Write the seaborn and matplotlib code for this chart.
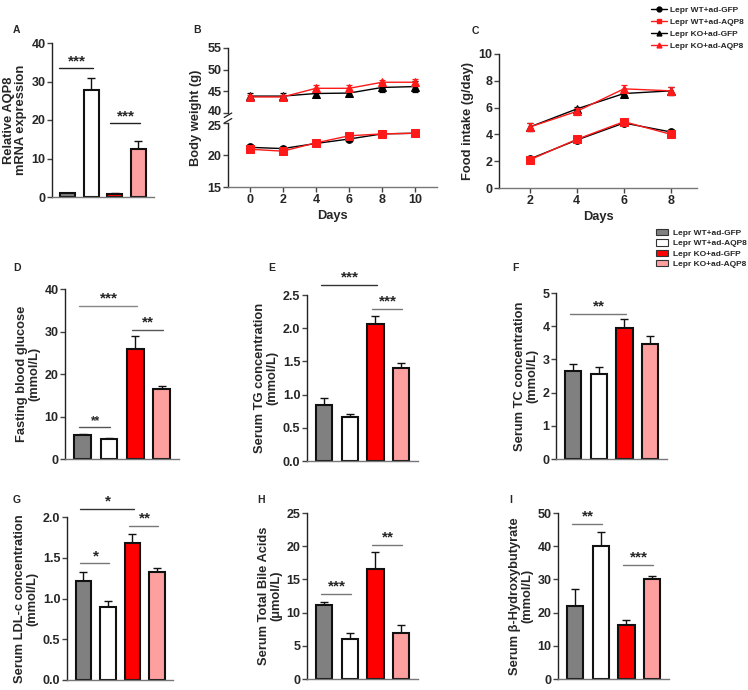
import numpy as np
import pandas as pd
import matplotlib
matplotlib.use('Agg')
import matplotlib.pyplot as plt
import matplotlib.transforms as mtransforms
import seaborn as sns
from matplotlib.lines import Line2D
from matplotlib.patches import Patch

sns.set_style('ticks')
plt.rcParams['font.family'] = ['Liberation Sans', 'DejaVu Sans']
plt.rcParams['font.weight'] = 'bold'
plt.rcParams['axes.labelweight'] = 'bold'

# ---------------- data ----------------
groups = ['Lepr WT+ad-GFP', 'Lepr WT+ad-AQP8', 'Lepr KO+ad-GFP', 'Lepr KO+ad-AQP8']
bar_colors = ['#808080', '#ffffff', '#ff0000', '#ffa0a0']

aqp8_mean = [1.0, 27.8, 0.85, 12.4]
aqp8_err = [0.15, 3.1, 0.1, 2.1]

bw_days = [0, 2, 4, 6, 8, 10]
bw_wt_gfp = [21.2, 21.0, 21.8, 22.5, 23.3, 23.4]
bw_wt_gfp_err = [0.2, 0.3, 0.2, 0.2, 0.2, 0.2]
bw_wt_aqp8 = [20.9, 20.6, 21.9, 23.0, 23.3, 23.4]
bw_wt_aqp8_err = [0.2, 0.2, 0.2, 0.2, 0.2, 0.2]
bw_ko_gfp = [43.9, 43.9, 44.5, 44.6, 45.9, 46.1]
bw_ko_gfp_err = [0.8, 0.8, 0.7, 0.7, 1.1, 1.3]
bw_ko_aqp8 = [43.7, 43.7, 45.7, 45.7, 47.1, 47.1]
bw_ko_aqp8_err = [0.5, 0.5, 0.7, 0.7, 0.6, 0.8]

fi_days = [2, 4, 6, 8]
fi_wt_gfp = [2.16, 3.58, 4.85, 4.18]
fi_wt_gfp_err = [0.05, 0.08, 0.1, 0.08]
fi_wt_aqp8 = [2.1, 3.63, 4.95, 4.0]
fi_wt_aqp8_err = [0.08, 0.08, 0.12, 0.12]
fi_ko_gfp = [4.55, 5.9, 7.05, 7.25]
fi_ko_gfp_err = [0.3, 0.15, 0.1, 0.3]
fi_ko_aqp8 = [4.55, 5.72, 7.4, 7.25]
fi_ko_aqp8_err = [0.3, 0.25, 0.25, 0.3]

glu_mean = [5.6, 4.6, 25.8, 16.5]
glu_err = [0.3, 0.3, 3.1, 0.7]
tg_mean = [0.85, 0.66, 2.06, 1.40]
tg_err = [0.10, 0.05, 0.12, 0.07]
tc_mean = [2.65, 2.56, 3.94, 3.45]
tc_err = [0.22, 0.22, 0.29, 0.24]
ldl_mean = [1.22, 0.90, 1.68, 1.325]
ldl_err = [0.11, 0.07, 0.11, 0.055]
tba_mean = [11.15, 5.97, 16.6, 6.98]
tba_err = [0.45, 0.96, 2.6, 1.2]
bhb_mean = [21.9, 40.2, 16.2, 30.1]
bhb_err = [5.35, 4.1, 1.7, 0.9]

W, H = 748, 690
fig = plt.figure(figsize=(W / 100, H / 100), dpi=100)

TICK_FS = 9
LAB_FS = 9.3
STAR_FS = 11


def rect(x0, y0, x1, y1):
    return [x0 / W, 1 - y1 / H, (x1 - x0) / W, (y1 - y0) / H]


def style_axes(ax, bottom_color='#777777'):
    sns.despine(ax=ax)
    ax.spines['left'].set_color('#222222')
    ax.spines['left'].set_linewidth(1.0)
    ax.spines['bottom'].set_color(bottom_color)
    ax.spines['bottom'].set_linewidth(1.0)
    ax.tick_params(axis='both', labelsize=TICK_FS, width=1, length=3.5, pad=1.2, color='#444444')
    for t in ax.get_yticklabels() + ax.get_xticklabels():
        t.set_fontweight('bold')


def panel_label(x, y, s):
    fig.text(x / W, 1 - y / H, s, fontsize=7.5, fontweight='bold', ha='left', va='center')


def bar_panel(r, means, errs, ylim, yticks, ylabel, sigs, fmt=None):
    ax = fig.add_axes(r)
    df = pd.DataFrame({'group': groups, 'value': means})
    sns.barplot(data=df, x='group', y='value', hue='group', order=groups, hue_order=groups,
                palette=bar_colors, saturation=1, edgecolor='#111111', linewidth=1.5,
                width=0.63, legend=False, errorbar=None, ax=ax, zorder=2)
    ax.errorbar(np.arange(4), means, yerr=[np.zeros(4), errs], fmt='none', ecolor='#111111',
                elinewidth=1, capsize=2.8, capthick=1, zorder=1)
    ax.set_xlim(-0.67, 3.66)
    ax.set_ylim(*ylim)
    ax.set_yticks(yticks)
    if fmt:
        ax.set_yticklabels([fmt.format(v) for v in yticks])
    ax.set_xticks([])
    ax.set_xlabel('')
    ax.set_ylabel(ylabel, fontsize=LAB_FS, fontweight='bold', labelpad=3, linespacing=1.05)
    style_axes(ax)
    for (i, j, y, s, fs, col) in sigs:
        ax.plot([i - 0.12, j + 0.05], [y, y], color=col, lw=1, clip_on=False)
        ax.annotate(s, xy=((i + j) / 2, y), xytext=(0, 0.3), textcoords='offset points',
                    ha='center', va='bottom', fontsize=fs, fontweight='bold', annotation_clip=False)
    return ax


# ---------------- A ----------------
panel_label(13, 30, 'A')
bar_panel(rect(52, 43, 154, 197), aqp8_mean, aqp8_err, (0, 40), [0, 10, 20, 30, 40],
          'Relative AQP8\nmRNA expression',
          [(0 - 0.25, 1, 33.4, '***', STAR_FS, '#222222'), (2 - 0.1, 3, 19.1, '***', STAR_FS, '#222222')])

# ---------------- B (broken axis) ----------------
panel_label(193, 30, 'B')
axBt = fig.add_axes(rect(228, 48, 437, 113))
axBb = fig.add_axes(rect(228, 123, 437, 187))


def line_series(ax, x, y, e, color, marker, ms):
    sns.lineplot(x=x, y=y, ax=ax, color=color, marker=marker, markersize=ms, linewidth=1,
                 markeredgecolor=color, legend=False)
    ax.errorbar(x, y, yerr=e, fmt='none', ecolor=color, elinewidth=0.9, capsize=2.5, capthick=0.9)


line_series(axBt, bw_days, bw_ko_gfp, bw_ko_gfp_err, 'black', '^', 5.5)
line_series(axBt, bw_days, bw_ko_aqp8, bw_ko_aqp8_err, '#ff1a1a', '^', 6)
line_series(axBb, bw_days, bw_wt_gfp, bw_wt_gfp_err, 'black', 'o', 5.5)
line_series(axBb, bw_days, bw_wt_aqp8, bw_wt_aqp8_err, '#ff1a1a', 's', 5.5)

for ax in (axBt, axBb):
    ax.set_xlim(-1.3, 11.3)
axBt.set_ylim(40, 55)
axBt.set_yticks([40, 45, 50, 55])
axBb.set_ylim(15, 25)
axBb.set_yticks([15, 20, 25])
axBb.set_xticks(bw_days)
style_axes(axBt)
style_axes(axBb)
axBt.spines['bottom'].set_visible(False)
axBt.set_xticks([])
axBt.set_xlabel('')
axBb.set_xlabel('Days', fontsize=LAB_FS, fontweight='bold', labelpad=3)
axBb.set_ylabel('')
axBt.set_ylabel('')
# nudge the two labels at the break apart
fig.canvas.draw()
lab40 = axBt.get_yticklabels()[0]
lab40.set_transform(lab40.get_transform() + mtransforms.ScaledTranslation(0, 1.8 / 72, fig.dpi_scale_trans))
lab25 = axBb.get_yticklabels()[-1]
lab25.set_transform(lab25.get_transform() + mtransforms.ScaledTranslation(0, -1.8 / 72, fig.dpi_scale_trans))
# break marks
d = dict(color='#222222', lw=0.9, clip_on=False)
axBt.plot([-0.018, 0.018], [-0.07, 0.0], transform=axBt.transAxes, **d)
axBb.plot([-0.018, 0.018], [1.0, 1.07], transform=axBb.transAxes, **d)
fig.text(196 / W, 1 - 118 / H, 'Body weight (g)', rotation=90, fontsize=LAB_FS, fontweight='bold',
         ha='center', va='center')

# ---------------- C ----------------
panel_label(472, 31, 'C')
axC = fig.add_axes(rect(499, 54, 697, 188))
line_series(axC, fi_days, fi_wt_gfp, fi_wt_gfp_err, 'black', 'o', 5.5)
line_series(axC, fi_days, fi_wt_aqp8, fi_wt_aqp8_err, '#ff1a1a', 's', 5.5)
line_series(axC, fi_days, fi_ko_gfp, fi_ko_gfp_err, 'black', '^', 5.5)
line_series(axC, fi_days, fi_ko_aqp8, fi_ko_aqp8_err, '#ff1a1a', '^', 6)
axC.set_xlim(0.7, 9.1)
axC.set_ylim(0, 10)
axC.set_yticks([0, 2, 4, 6, 8, 10])
axC.set_xticks(fi_days)
style_axes(axC)
axC.set_xlabel('Days', fontsize=LAB_FS, fontweight='bold', labelpad=3)
axC.set_ylabel('Food intake (g/day)', fontsize=LAB_FS, fontweight='bold', labelpad=3)

line_handles = [
    Line2D([], [], color='black', marker='o', markersize=3.5, lw=1),
    Line2D([], [], color='#ff1a1a', marker='s', markersize=3.5, lw=1),
    Line2D([], [], color='black', marker='^', markersize=3.5, lw=1),
    Line2D([], [], color='#ff1a1a', marker='^', markersize=3.5, lw=1),
]
fig.legend(line_handles, groups, loc='upper left', bbox_to_anchor=(645 / W, 1 - 0 / H),
           frameon=False, handlelength=1.9, handletextpad=0.45, labelspacing=0.5,
           borderpad=0.2, prop={'weight': 'bold', 'size': 6.0})

bar_handles = [Patch(facecolor=c, edgecolor='#333333', linewidth=0.8) for c in bar_colors]
fig.legend(bar_handles, groups, loc='upper left', bbox_to_anchor=(650 / W, 1 - 223 / H),
           frameon=False, handlelength=1.45, handleheight=0.8, handletextpad=0.65, labelspacing=0.27,
           borderpad=0.2, prop={'weight': 'bold', 'size': 6.0})

# ---------------- D ----------------
panel_label(13, 268, 'D')
bar_panel(rect(65, 289, 179, 459), glu_mean, glu_err, (0, 40), [0, 10, 20, 30, 40],
          'Fasting blood glucose\n(mmol/L)',
          [(0, 2, 36.0, '***', STAR_FS, '#888888'), (2, 3, 30.4, '**', STAR_FS, '#555555'),
           (0, 1, 7.5, '**', 8.5, '#555555')])

# ---------------- E ----------------
panel_label(268, 268, 'E')
bar_panel(rect(307, 295, 418, 461), tg_mean, tg_err, (0, 2.5), [0, 0.5, 1.0, 1.5, 2.0, 2.5],
          'Serum TG concentration\n(mmol/L)',
          [(0, 2, 2.65, '***', STAR_FS, '#333333'), (2, 3, 2.29, '***', STAR_FS, '#777777')], fmt='{:.1f}')

# ---------------- F ----------------
panel_label(512, 268, 'F')
bar_panel(rect(556, 293, 667, 459), tc_mean, tc_err, (0, 5), [0, 1, 2, 3, 4, 5],
          'Serum TC concentration\n(mmol/L)',
          [(0, 2, 4.38, '**', STAR_FS, '#777777')])

# ---------------- G ----------------
panel_label(13, 500, 'G')
bar_panel(rect(67, 517, 173, 680), ldl_mean, ldl_err, (0, 2.0), [0, 0.5, 1.0, 1.5, 2.0],
          'Serum LDL-c concentration\n(mmol/L)',
          [(0, 2, 2.10, '*', STAR_FS, '#333333'), (0, 1, 1.43, '*', STAR_FS, '#777777'),
           (2, 3, 1.885, '**', STAR_FS, '#777777')], fmt='{:.1f}')

# ---------------- H ----------------
panel_label(257, 500, 'H')
bar_panel(rect(307, 513, 418, 679), tba_mean, tba_err, (0, 25), [0, 5, 10, 15, 20, 25],
          'Serum Total Bile Acids\n(μmol/L)',
          [(0, 1, 12.75, '***', STAR_FS, '#777777'), (2, 3, 20.2, '**', STAR_FS, '#777777')])

# ---------------- I ----------------
panel_label(509, 500, 'I')
bar_panel(rect(558, 513, 669, 679), bhb_mean, bhb_err, (0, 50), [0, 10, 20, 30, 40, 50],
          'Serum β-Hydroxybutyrate\n(mmol/L)',
          [(0, 1, 46.6, '**', STAR_FS, '#777777'), (2, 3, 34.3, '***', STAR_FS, '#777777')])

fig.savefig('out.png', dpi=100)
